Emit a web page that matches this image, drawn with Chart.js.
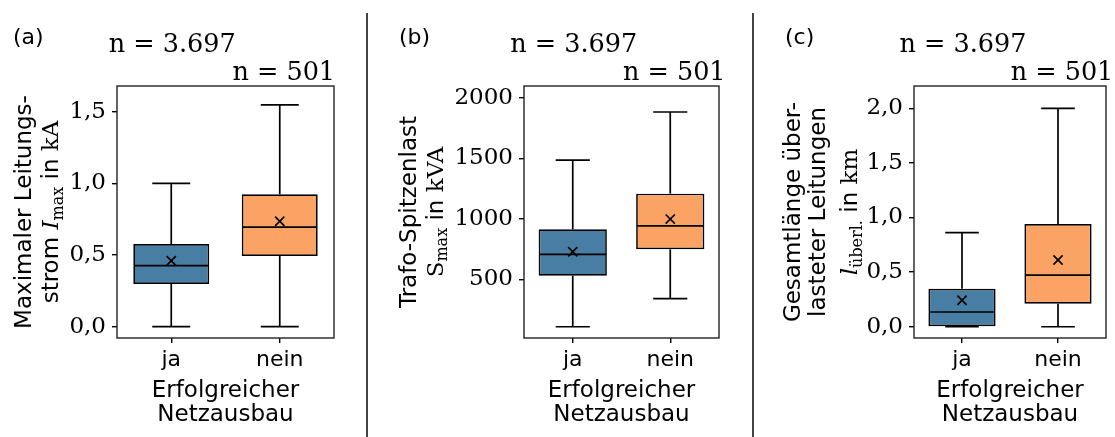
<!DOCTYPE html>
<html><head><meta charset="utf-8">
<script src="https://cdn.jsdelivr.net/npm/chart.js@4/dist/chart.umd.min.js"></script>
<style>
body{margin:0;background:#fff;width:1115px;height:437px;position:relative;overflow:hidden}
canvas{position:absolute;top:0}
.sep{position:absolute;top:13px;width:2px;height:424px;background:#444}
</style></head><body>
<canvas id="cA" width="366" height="437" style="left:0"></canvas>
<canvas id="cB" width="383" height="437" style="left:369px"></canvas>
<canvas id="cC" width="360" height="437" style="left:755px"></canvas>
<div class="sep" style="left:366px"></div>
<div class="sep" style="left:752px"></div>
<script>
// ---------- data ----------
const categories = ['ja', 'nein'];
const sampleSizes = ['n = 3.697', 'n = 501'];

// (a) Maximaler Leitungsstrom in kA
const currentLow = [0.0, 0.0];
const currentQ1 = [0.298, 0.493];
const currentMedian = [0.426, 0.694];
const currentQ3 = [0.577, 0.924];
const currentHigh = [1.0, 1.547];
const currentMean = [0.46, 0.735];
const currentTicks = [0.0, 0.5, 1.0, 1.5];
const currentTickLabels = ['0,0', '0,5', '1,0', '1,5'];

// (b) Trafo-Spitzenlast in kVA
const loadLow = [107, 339];
const loadQ1 = [529, 747];
const loadMedian = [706, 940];
const loadQ3 = [912, 1207];
const loadHigh = [1485, 1882];
const loadMean = [727, 997];
const loadTicks = [500, 1000, 1500, 2000];
const loadTickLabels = ['500', '1000', '1500', '2000'];

// (c) Gesamtlänge überlasteter Leitungen in km
const lengthLow = [0.0, 0.0];
const lengthQ1 = [0.005, 0.21];
const lengthMedian = [0.135, 0.473];
const lengthQ3 = [0.348, 0.94];
const lengthHigh = [0.861, 2.0];
const lengthMean = [0.242, 0.611];
const lengthTicks = [0.0, 0.5, 1.0, 1.5, 2.0];
const lengthTickLabels = ['0,0', '0,5', '1,0', '1,5', '2,0'];

const boxColors = ['#497ea4', '#fba364'];

// ---------- fonts ----------
const SANS = '"DejaVu Sans"';
const SERIF = '"DejaVu Serif"';
const fSans = '23px ' + SANS;
const fSerif = '23px ' + SERIF;
const fItal = 'italic 23px ' + SERIF;
const fSub = '16px ' + SERIF;

function drawRichLine(ctx, segs, bx, cy) {
  ctx.save();
  ctx.translate(bx, cy);
  ctx.rotate(-Math.PI / 2);
  ctx.textAlign = 'left';
  ctx.textBaseline = 'alphabetic';
  let w = 0;
  segs.forEach(s => { ctx.font = s.f; s.w = ctx.measureText(s.t).width; w += s.w; });
  let x = -w / 2;
  segs.forEach(s => { ctx.font = s.f; ctx.fillText(s.t, x, s.dy || 0); x += s.w; });
  ctx.restore();
}

const boxParts = {
  id: 'boxParts',
  afterDatasetsDraw(chart) {
    const o = chart.options.plugins.boxParts;
    const ctx = chart.ctx, y = chart.scales.y;
    const meta = chart.getDatasetMeta(1);
    ctx.save();
    ctx.strokeStyle = '#000';
    ctx.lineWidth = 1.7;
    const seg = (x1, y1, x2, y2) => { ctx.beginPath(); ctx.moveTo(x1, y1); ctx.lineTo(x2, y2); ctx.stroke(); };
    meta.data.forEach((bar, i) => {
      const x = bar.x, half = bar.width / 2, cap = bar.width / 4;
      const pLow = y.getPixelForValue(o.low[i]), pHigh = y.getPixelForValue(o.high[i]);
      const pQ1 = y.getPixelForValue(o.q1[i]), pQ3 = y.getPixelForValue(o.q3[i]);
      const pMed = y.getPixelForValue(o.median[i]);
      seg(x, pQ3, x, pHigh); seg(x, pQ1, x, pLow);
      seg(x - cap, pHigh, x + cap, pHigh); seg(x - cap, pLow, x + cap, pLow);
      seg(x - half + 1, pMed, x + half - 1, pMed);
    });
    const a = chart.chartArea;
    ctx.strokeStyle = '#222';
    ctx.lineWidth = 1.4;
    ctx.strokeRect(a.left, a.top, a.right - a.left, a.bottom - a.top);
    ctx.restore();
  },
  afterDraw(chart) {
    const o = chart.options.plugins.boxParts;
    const ctx = chart.ctx, a = chart.chartArea;
    const meta = chart.getDatasetMeta(1);
    ctx.save();
    ctx.fillStyle = '#000';
    // panel letter
    ctx.font = '22px ' + SANS; ctx.textAlign = 'left'; ctx.textBaseline = 'alphabetic';
    ctx.fillText(o.letter, o.letterX, 44);
    // sample sizes
    ctx.font = '25.5px ' + SERIF; ctx.textAlign = 'center';
    ctx.fillText(sampleSizes[0], meta.data[0].x + 1, 51.5);
    ctx.fillText(sampleSizes[1], meta.data[1].x + 4, 80);
    // x title
    ctx.font = fSans;
    const cx = (a.left + a.right) / 2;
    ctx.fillText('Erfolgreicher', cx, 396.5);
    ctx.fillText('Netzausbau', cx, 421);
    // y title
    const cy = (a.top + a.bottom) / 2;
    o.yTitle.forEach((line, i) => drawRichLine(ctx, line, o.yTitleX[i], cy));
    ctx.restore();
  }
};

function makeChart(id, c) {
  return new Chart(document.getElementById(id), {
    data: {
      labels: categories,
      datasets: [
        { type: 'line', data: c.mean, showLine: false, pointStyle: 'crossRot', pointRadius: 6.5,
          pointHoverRadius: 6.5, pointBorderColor: '#000', pointBorderWidth: 1.7, borderColor: '#000', order: 0 },
        { type: 'bar', data: categories.map((_, i) => [c.q1[i], c.q3[i]]), backgroundColor: boxColors,
          borderColor: '#000', borderWidth: 1.7, borderSkipped: false, barPercentage: 0.7, categoryPercentage: 1, order: 1 }
      ]
    },
    options: {
      responsive: false, animation: false, devicePixelRatio: 1,
      layout: { padding: { top: 86, right: c.padRight, left: 0, bottom: 0 } },
      plugins: {
        legend: { display: false }, tooltip: { enabled: false },
        boxParts: { low: c.low, q1: c.q1, median: c.median, q3: c.q3, high: c.high,
          letter: c.letter, letterX: c.letterX, yTitle: c.yTitle, yTitleX: c.yTitleX }
      },
      scales: {
        x: {
          offset: true,
          grid: { offset: false, drawOnChartArea: false, drawTicks: true, tickLength: 5, color: '#000', lineWidth: 1.4 },
          border: { display: false },
          ticks: { color: '#000', font: { family: 'DejaVu Sans', size: 22 }, padding: 4 },
          afterFit(s) { s.height = 99; }
        },
        y: {
          min: c.min, max: c.max,
          afterBuildTicks(s) { s.ticks = c.ticks.map(v => ({ value: v })); },
          grid: { drawOnChartArea: false, drawTicks: true, tickLength: 5, color: '#000', lineWidth: 1.4 },
          border: { display: false },
          ticks: { color: '#000', font: { family: 'DejaVu Serif', size: 23 }, padding: 6,
            callback: (v, i) => c.tickLabels[i] },
          afterFit(s) { s.width = c.axisWidth; }
        }
      }
    },
    plugins: [boxParts]
  });
}

makeChart('cA', {
  low: currentLow, q1: currentQ1, median: currentMedian, q3: currentQ3, high: currentHigh, mean: currentMean,
  ticks: currentTicks, tickLabels: currentTickLabels, min: -0.079, max: 1.679,
  axisWidth: 117, padRight: 32, letter: '(a)', letterX: 13,
  yTitle: [
    [{ t: 'Maximaler Leitungs-', f: fSans }],
    [{ t: 'strom ', f: fSans }, { t: 'I', f: fItal }, { t: 'max', f: fSub, dy: 5 }, { t: ' in ', f: fSans }, { t: 'kA', f: fSerif }]
  ],
  yTitleX: [31, 58]
});

makeChart('cB', {
  low: loadLow, q1: loadQ1, median: loadMedian, q3: loadQ3, high: loadHigh, mean: loadMean,
  ticks: loadTicks, tickLabels: loadTickLabels, min: 14, max: 2097,
  axisWidth: 155, padRight: 33, letter: '(b)', letterX: 30,
  yTitle: [
    [{ t: 'Trafo-Spitzenlast', f: fSans }],
    [{ t: 'S', f: fSerif }, { t: 'max', f: fSub, dy: 4 }, { t: ' in ', f: fSans }, { t: 'kVA', f: fSerif }]
  ],
  yTitleX: [47, 74]
});

makeChart('cC', {
  low: lengthLow, q1: lengthQ1, median: lengthMedian, q3: lengthQ3, high: lengthHigh, mean: lengthMean,
  ticks: lengthTicks, tickLabels: lengthTickLabels, min: -0.103, max: 2.204,
  axisWidth: 159, padRight: 9, letter: '(c)', letterX: 30,
  yTitle: [
    [{ t: 'Gesamtlänge über-', f: fSans }],
    [{ t: 'lasteter Leitungen', f: fSans }],
    [{ t: 'l', f: fItal }, { t: 'überl.', f: fSub, dy: 5 }, { t: ' in ', f: fSans }, { t: 'km', f: fSerif }]
  ],
  yTitleX: [45, 70, 102]
});
</script>
</body></html>
